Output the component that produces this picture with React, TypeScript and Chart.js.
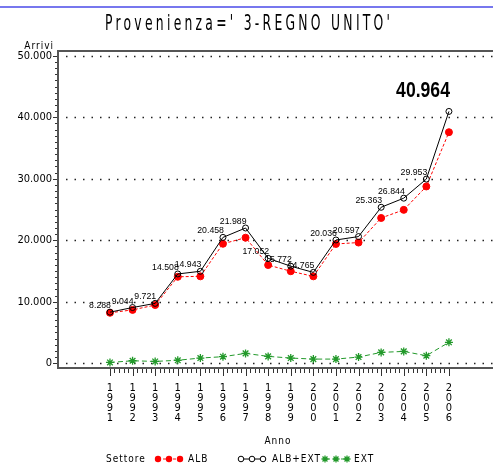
import React, { useEffect, useRef } from 'react';
import { Chart, registerables } from 'chart.js';

Chart.register(...registerables);

// ---- data ----
const years = [1991, 1992, 1993, 1994, 1995, 1996, 1997, 1998, 1999, 2000, 2001, 2002, 2003, 2004, 2005, 2006];
const totalValues = [8288, 9044, 9721, 14508, 14943, 20458, 21989, 17052, 15772, 14765, 20036, 20597, 25363, 26844, 29953, 40964];
const albValues = [8190, 8660, 9450, 14050, 14120, 19420, 20410, 15960, 14950, 14120, 19390, 19620, 23620, 24940, 28750, 37580];
const extValues = [100, 380, 270, 460, 820, 1040, 1580, 1090, 820, 650, 650, 980, 1740, 1900, 1200, 3380];
const yTickValues = [0, 10000, 20000, 30000, 40000, 50000];
const seriesNames = ['ALB', 'ALB+EXT', 'EXT'];
const titleText = "Provenienza=' 3-REGNO UNITO'";
const yTitle = 'Arrivi';
const xTitle = 'Anno';
const legendTitle = 'Settore';

const SAS_FONT = '"Liberation Sans Narrow", "DejaVu Sans Condensed", "Noto Sans", sans-serif';
const TITLE_FONT = '"DejaVu Sans Condensed", "DejaVu Sans", sans-serif';
const LABEL_FONT = '"Liberation Sans", Arial, sans-serif';
const RED = '#ff0000';
const BLACK = '#000000';
const GREEN = '#22992a';

const fmt = (v: number) => String(Math.round(v)).replace(/\B(?=(\d{3})+(?!\d))/g, '.');

function drawStar(ctx: CanvasRenderingContext2D, x: number, y: number, r: number) {
  ctx.beginPath();
  ctx.moveTo(x - r, y); ctx.lineTo(x + r, y);
  ctx.moveTo(x, y - r); ctx.lineTo(x, y + r);
  const d = r * 0.7071;
  ctx.moveTo(x - d, y - d); ctx.lineTo(x + d, y + d);
  ctx.moveTo(x - d, y + d); ctx.lineTo(x + d, y - d);
  ctx.stroke();
}

const decorPlugin = {
  id: 'decor',
  beforeDatasetsDraw(chart: any) {
    const { ctx, chartArea: ca, scales } = chart;
    const xs = scales.x, ys = scales.y;
    ctx.save();
    // dotted gridlines
    ctx.strokeStyle = '#222';
    ctx.lineWidth = 1.5;
    ctx.setLineDash([1.5, 7]);
    ctx.lineDashOffset = -8;
    for (const v of yTickValues) {
      const py = Math.round(ys.getPixelForValue(v)) + 0.5;
      ctx.beginPath();
      ctx.moveTo(ca.left, py);
      ctx.lineTo(ca.right, py);
      ctx.stroke();
    }
    ctx.setLineDash([]);
    // frame
    ctx.strokeStyle = '#555';
    ctx.lineWidth = 2;
    ctx.beginPath();
    ctx.moveTo(ca.right, ca.top);
    ctx.lineTo(ca.left, ca.top);
    ctx.lineTo(ca.left, ca.bottom);
    ctx.lineTo(ca.right, ca.bottom);
    ctx.stroke();
    // y ticks (major + minor)
    ctx.lineWidth = 1;
    ctx.strokeStyle = '#333';
    for (let v = 0; v <= 50000; v += 1000) {
      const py = Math.round(ys.getPixelForValue(v)) + 0.5;
      const len = v % 10000 === 0 ? 4 : 2;
      ctx.beginPath();
      ctx.moveTo(ca.left - 1, py);
      ctx.lineTo(ca.left - 1 - len, py);
      ctx.stroke();
    }
    // x ticks (major + minor)
    for (let i = 0; i <= (years.length - 1) * 5; i++) {
      const v = years[0] + i / 5;
      const px = Math.round(xs.getPixelForValue(v)) + 0.5;
      const len = i % 5 === 0 ? 7 : 4;
      ctx.beginPath();
      ctx.moveTo(px, ca.bottom + 1);
      ctx.lineTo(px, ca.bottom + 1 + len);
      ctx.stroke();
    }
    ctx.restore();
  },
  afterDatasetsDraw(chart: any) {
    const { ctx } = chart;
    const meta = chart.getDatasetMeta(0);
    ctx.save();
    ctx.fillStyle = '#000';
    ctx.textAlign = 'right';
    ctx.textBaseline = 'alphabetic';
    meta.data.forEach((pt: any, i: number) => {
      const last = i === meta.data.length - 1;
      const txt = fmt(totalValues[i]);
      ctx.save();
      if (last) {
        ctx.font = `bold 22px ${LABEL_FONT}`;
        ctx.translate(pt.x + 1, pt.y - 14);
        ctx.scale(0.8, 1);
        ctx.fillText(txt, 0, 0);
      } else {
        ctx.font = `9.5px ${LABEL_FONT}`;
        ctx.translate(pt.x + 1, pt.y - 4);
        ctx.scale(0.92, 1);
        ctx.fillText(txt, 0, 0);
      }
      ctx.restore();
    });
    ctx.restore();
  },
  afterDraw(chart: any) {
    const { ctx, chartArea: ca, width, height } = chart;
    ctx.save();
    // blue top rule
    ctx.strokeStyle = '#7777ee';
    ctx.lineWidth = 2;
    ctx.beginPath();
    ctx.moveTo(0, 7);
    ctx.lineTo(width, 7);
    ctx.stroke();
    // title: narrow, spaced letters
    ctx.fillStyle = '#000';
    ctx.font = `21px ${TITLE_FONT}`;
    (ctx as any).letterSpacing = '5px';
    ctx.textAlign = 'left';
    ctx.textBaseline = 'alphabetic';
    const tw = ctx.measureText(titleText).width - 5;
    const targetW = 285;
    ctx.save();
    ctx.translate(105, 30);
    ctx.scale(targetW / tw, 1);
    ctx.fillText(titleText, 0, 0);
    ctx.restore();
    (ctx as any).letterSpacing = '0px';
    // y title
    ctx.font = `10px ${SAS_FONT}`;
    (ctx as any).letterSpacing = '1px';
    ctx.textAlign = 'right';
    ctx.textBaseline = 'middle';
    ctx.fillText(yTitle, ca.left - 4, 46);
    // x title
    ctx.textAlign = 'center';
    ctx.fillText(xTitle, 278, 441);
    // legend
    const ly = height - 6;
    ctx.textAlign = 'left';
    ctx.fillText(legendTitle, 106, ly);
    const items = [
      { x: 158, name: seriesNames[0], tx: 188 },
      { x: 241, name: seriesNames[1], tx: 272 },
      { x: 325, name: seriesNames[2], tx: 354 },
    ];
    // ALB
    ctx.strokeStyle = RED; ctx.fillStyle = RED; ctx.lineWidth = 1;
    ctx.setLineDash([3, 2]);
    ctx.beginPath(); ctx.moveTo(items[0].x, ly); ctx.lineTo(items[0].x + 23, ly); ctx.stroke();
    ctx.setLineDash([]);
    for (let k = 0; k < 3; k++) { ctx.beginPath(); ctx.arc(items[0].x + k * 11, ly, 3.2, 0, Math.PI * 2); ctx.fill(); }
    // ALB+EXT
    ctx.strokeStyle = BLACK;
    ctx.beginPath(); ctx.moveTo(items[1].x, ly); ctx.lineTo(items[1].x + 22, ly); ctx.stroke();
    for (let k = 0; k < 3; k++) { ctx.beginPath(); ctx.arc(items[1].x + k * 11, ly, 2.8, 0, Math.PI * 2); ctx.fillStyle = '#fff'; ctx.fill(); ctx.stroke(); }
    // EXT
    ctx.strokeStyle = GREEN;
    ctx.setLineDash([5, 3]);
    ctx.beginPath(); ctx.moveTo(items[2].x, ly); ctx.lineTo(items[2].x + 22, ly); ctx.stroke();
    ctx.setLineDash([]);
    ctx.lineWidth = 1.3;
    for (let k = 0; k < 3; k++) drawStar(ctx, items[2].x + k * 11, ly, 3.5);
    ctx.fillStyle = '#000';
    items.forEach((it) => ctx.fillText(it.name, it.tx, ly));
    ctx.restore();
  },
};

export default function App() {
  const ref = useRef<HTMLCanvasElement | null>(null);
  useEffect(() => {
    if (!ref.current) return;
    const chart = new Chart(ref.current, {
      type: 'line',
      data: {
        datasets: [
          {
            label: seriesNames[1],
            data: years.map((y, i) => ({ x: y, y: totalValues[i] })),
            borderColor: BLACK,
            borderWidth: 1,
            pointStyle: 'circle',
            pointRadius: 3,
            pointBorderWidth: 1,
            pointBorderColor: BLACK,
            pointBackgroundColor: 'rgba(0,0,0,0)',
            tension: 0,
            order: 0,
          },
          {
            label: seriesNames[0],
            data: years.map((y, i) => ({ x: y, y: albValues[i] })),
            borderColor: RED,
            borderWidth: 1,
            borderDash: [3, 2],
            pointStyle: 'circle',
            pointRadius: 3.5,
            pointBorderColor: RED,
            pointBackgroundColor: RED,
            tension: 0,
            order: 1,
          },
          {
            label: seriesNames[2],
            data: years.map((y, i) => ({ x: y, y: extValues[i] })),
            borderColor: GREEN,
            borderWidth: 1,
            borderDash: [5, 3],
            pointStyle: 'star',
            pointRadius: 4,
            pointBorderWidth: 1.3,
            pointBorderColor: GREEN,
            pointBackgroundColor: GREEN,
            tension: 0,
            order: 2,
          },
        ],
      },
      options: {
        animation: false,
        responsive: false,
        maintainAspectRatio: false,
        layout: { autoPadding: false, padding: { top: 51, left: 0, right: 0, bottom: 0 } },
        plugins: {
          legend: { display: false },
          title: { display: false },
          tooltip: { enabled: false },
        },
        scales: {
          x: {
            type: 'linear',
            min: 1988.7,
            max: 2007.95,
            afterBuildTicks: (s: any) => { s.ticks = years.map((v) => ({ value: v })); },
            afterFit: (s: any) => { s.height = 97; },
            grid: { display: false, drawTicks: false },
            border: { display: false },
            ticks: {
              autoSkip: false,
              maxRotation: 0,
              minRotation: 0,
              padding: 15,
              color: '#000',
              font: { family: SAS_FONT, size: 11, lineHeight: 0.9 },
              callback: (v: any) => String(v).split(''),
            },
          },
          y: {
            type: 'linear',
            min: -800,
            max: 50800,
            afterBuildTicks: (s: any) => { s.ticks = yTickValues.map((v) => ({ value: v })); },
            afterFit: (s: any) => { s.width = 58; },
            grid: { display: false, drawTicks: false },
            border: { display: false },
            ticks: {
              padding: 6,
              color: '#000',
              font: { family: SAS_FONT, size: 11 },
              callback: (v: any) => fmt(Number(v)),
            },
          },
        },
      },
      plugins: [decorPlugin],
    } as any);
    return () => chart.destroy();
  }, []);
  return (
    <div style={{ position: 'absolute', left: 0, top: 0, width: 493, height: 465, background: '#fff' }}>
      <canvas ref={ref} width={493} height={465} style={{ width: 493, height: 465, display: 'block' }} />
    </div>
  );
}
